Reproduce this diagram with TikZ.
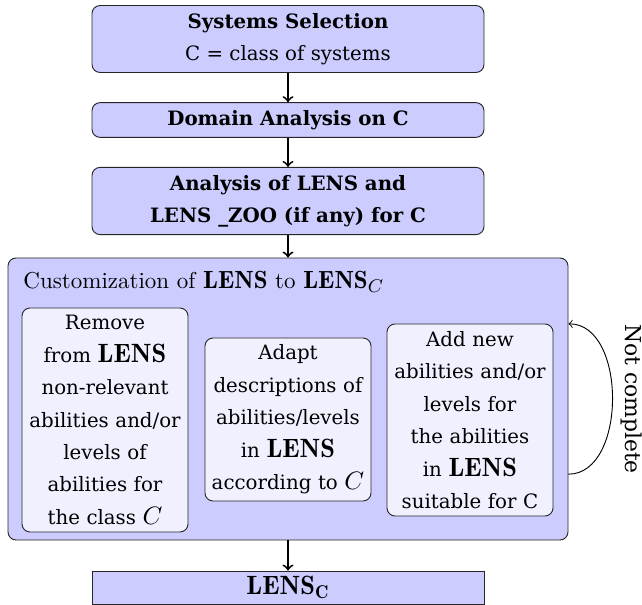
\documentclass[tikz,border=0pt]{standalone}
\usepackage{fontspec}
\newfontfamily\dejavu{DejaVu Serif}
\def\px{0.4348pt}
\newcommand\lensm[2][11.5]{{\fontsize{#1}{12}\selectfont$#2$}}
\tikzset{
  stage/.style={draw=black!85, fill=blue!20, rounded corners=3.5pt, minimum width=392*\px,
    align=center, font=\dejavu\fontsize{8.6}{14}\selectfont},
  task/.style={draw=black!85, fill=blue!6, rounded corners=3.5pt, minimum width=166*\px,
    text width=160*\px, inner xsep=1pt, inner ysep=2pt, align=center,
    font=\dejavu\fontsize{8.6}{14.1}\selectfont},
  flow/.style={->, thick},
}
\begin{document}
\begin{tikzpicture}[x=\px,y=-\px]
\useasboundingbox (0,0) rectangle (642,605);
\node[stage,minimum height=66*\px] (sel) at (288,39) {\textbf{Systems Selection}\\C = class of systems};
\node[stage,minimum height=34*\px] (dom) at (288,120) {\textbf{Domain Analysis on C}};
\node[stage,minimum height=66*\px] (ana) at (288,201) {\textbf{Analysis of LENS and}\\\textbf{LENS \_ZOO (if any) for C}};
\node[stage,minimum width=560*\px,minimum height=282*\px] (cust) at (288,399) {};
\node[anchor=base west,inner sep=0pt] (title) at (23,289) {Customization of \lensm[10.8]{\mathbf{LENS}} to \lensm[10.8]{\mathbf{LENS}_C}};
\node[task,minimum height=224*\px] (remove) at (105,420) {Remove\\from \lensm{\mathbf{LENS}}\\non-relevant\\abilities and/or\\levels of\\abilities for\\the class \lensm[10.5]{C}};
\node[task,minimum height=163*\px] (adapt) at (288,419.5) {Adapt\\descriptions of\\abilities/levels\\in \lensm{\mathbf{LENS}}\\according to \lensm[10.5]{C}};
\node[task,minimum height=192*\px] (add) at (470,420) {Add new\\abilities and/or\\levels for\\the abilities\\in \lensm{\mathbf{LENS}}\\suitable for C};
\node[stage,rounded corners=0pt,inner ysep=0pt,minimum height=33*\px] (lens) at (288,587.5) {\lensm{\mathbf{LENS_C}}};
\draw[flow] (sel) -- (dom);
\draw[flow] (dom) -- (ana);
\draw[flow] (ana) -- (cust);
\draw[flow] (cust) -- (lens);
\draw[->] (cust.-15) to[out=0,in=0,looseness=1] node[rotate=-90,anchor=south,font=\dejavu\fontsize{9.5}{12}\selectfont] {Not complete} (cust.15);
\end{tikzpicture}
\end{document}
